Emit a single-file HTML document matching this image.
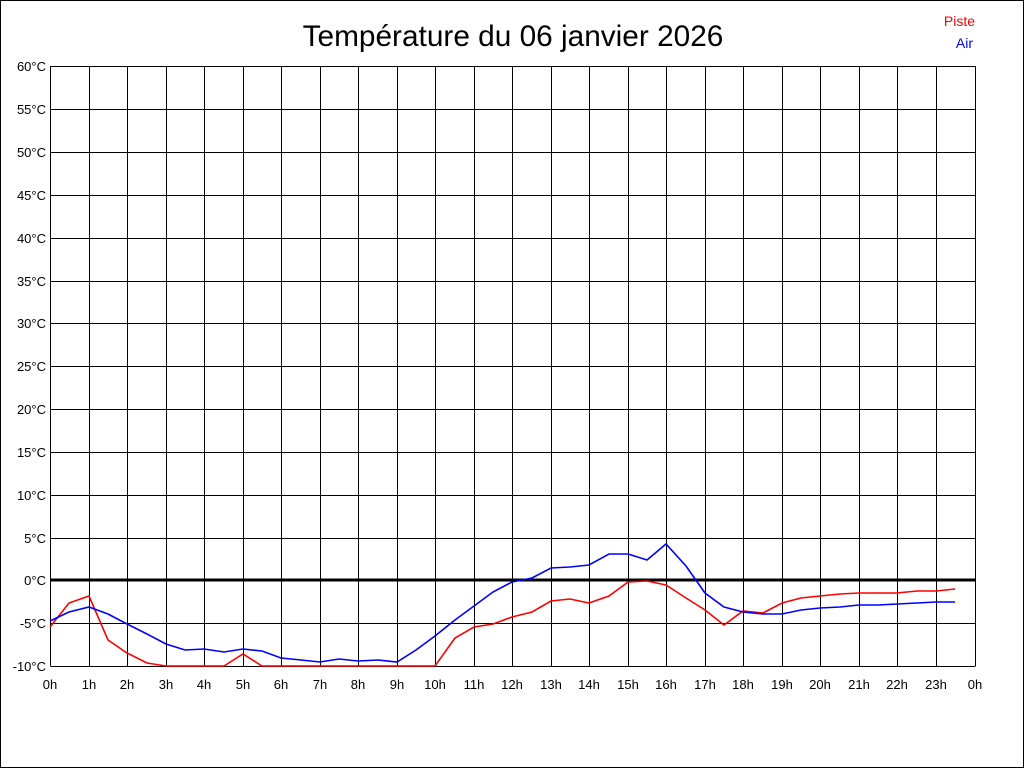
<!DOCTYPE html>
<html><head><meta charset="utf-8"><style>
html,body{margin:0;padding:0;background:#fff}
svg{display:block}
text{font-family:"Liberation Sans",Arial,sans-serif}
</style></head><body>
<svg width="1024" height="768" xmlns="http://www.w3.org/2000/svg">
<rect x="0.5" y="0.5" width="1023" height="767" fill="#fff" stroke="#000"/>
<text x="513" y="46" font-size="29.8" text-anchor="middle">Température du 06 janvier 2026</text>
<text x="975" y="26" font-size="14" fill="#f00" text-anchor="end">Piste</text>
<text x="973" y="48" font-size="14" fill="#00f" text-anchor="end">Air</text>
<g stroke="#000" stroke-width="1" shape-rendering="crispEdges">
<path d="M50.5 66.5H975.5M50.5 109.5H975.5M50.5 152.5H975.5M50.5 195.5H975.5M50.5 238.5H975.5M50.5 281.5H975.5M50.5 323.5H975.5M50.5 366.5H975.5M50.5 409.5H975.5M50.5 452.5H975.5M50.5 495.5H975.5M50.5 538.5H975.5M50.5 623.5H975.5M50.5 666.5H975.5"/>
<path d="M50.5 66V666M89.5 66V666M127.5 66V666M166.5 66V666M204.5 66V666M243.5 66V666M281.5 66V666M320.5 66V666M358.5 66V666M397.5 66V666M435.5 66V666M474.5 66V666M512.5 66V666M551.5 66V666M589.5 66V666M628.5 66V666M666.5 66V666M705.5 66V666M743.5 66V666M782.5 66V666M820.5 66V666M859.5 66V666M897.5 66V666M936.5 66V666M975.5 66V666"/>
</g>
<line x1="50" y1="580" x2="975" y2="580" stroke="#000" stroke-width="3"/>
<g font-size="13" text-anchor="end">
<text x="46" y="71">60°C</text><text x="46" y="114">55°C</text><text x="46" y="157">50°C</text><text x="46" y="200">45°C</text><text x="46" y="243">40°C</text><text x="46" y="286">35°C</text><text x="46" y="328">30°C</text><text x="46" y="371">25°C</text><text x="46" y="414">20°C</text><text x="46" y="457">15°C</text><text x="46" y="500">10°C</text><text x="46" y="543">5°C</text><text x="46" y="585">0°C</text><text x="46" y="628">-5°C</text><text x="46" y="671">-10°C</text>
</g>
<g font-size="13" text-anchor="middle">
<text x="50" y="689">0h</text><text x="89" y="689">1h</text><text x="127" y="689">2h</text><text x="166" y="689">3h</text><text x="204" y="689">4h</text><text x="243" y="689">5h</text><text x="281" y="689">6h</text><text x="320" y="689">7h</text><text x="358" y="689">8h</text><text x="397" y="689">9h</text><text x="435" y="689">10h</text><text x="474" y="689">11h</text><text x="512" y="689">12h</text><text x="551" y="689">13h</text><text x="589" y="689">14h</text><text x="628" y="689">15h</text><text x="666" y="689">16h</text><text x="705" y="689">17h</text><text x="743" y="689">18h</text><text x="782" y="689">19h</text><text x="820" y="689">20h</text><text x="859" y="689">21h</text><text x="897" y="689">22h</text><text x="936" y="689">23h</text><text x="975" y="689">0h</text>
</g>
<polyline fill="none" stroke="#f00" stroke-width="1.6" points="50,627 69,603 89,596 108,640 127,653 147,663 166,666 185,666 204,666 224,666 243,654 262,666 281,666 301,666 320,666 339,666 358,666 378,666 397,666 416,666 435,666 455,638 474,627 493,624 512,617 532,612 551,601 570,599 589,603 609,596 628,582 647,581 666,585 686,598 705,610 724,625 743,611 763,613 782,603 801,598 820,596 840,594 859,593 878,593 897,593 917,591 936,591 955,589"/>
<polyline fill="none" stroke="#00f" stroke-width="1.6" points="50,621 69,612 89,607 108,614 127,624 147,634 166,644 185,650 204,649 224,652 243,649 262,651 281,658 301,660 320,662 339,659 358,661 378,660 397,662 416,650 435,636 455,620 474,606 493,592 512,582 532,578 551,568 570,567 589,565 609,554 628,554 647,560 666,544 686,566 705,593 724,607 743,612 763,614 782,614 801,610 820,608 840,607 859,605 878,605 897,604 917,603 936,602 955,602"/>
</svg>
</body></html>
